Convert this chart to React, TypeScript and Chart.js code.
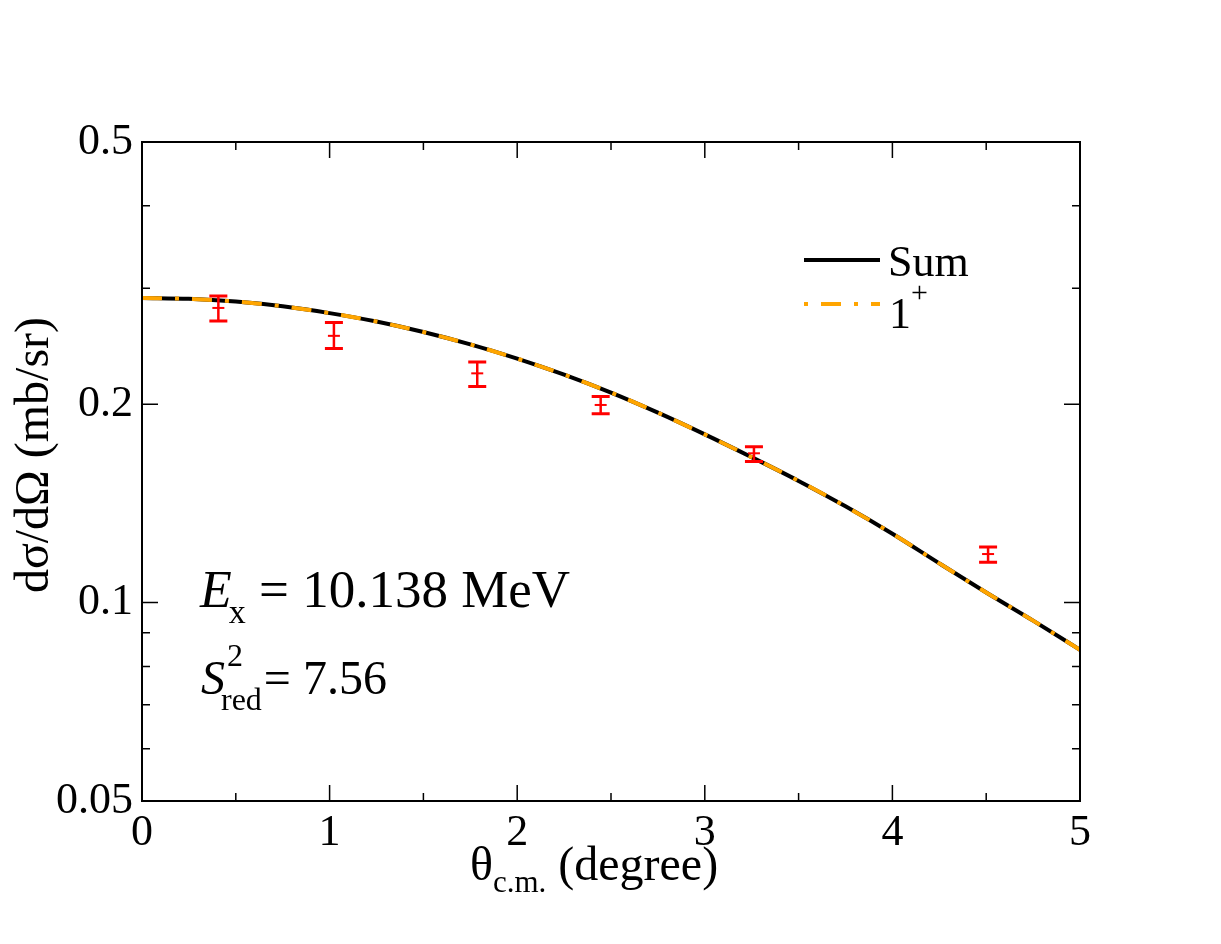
import React, { useEffect, useRef } from "react";
import { Chart, registerables } from "chart.js";

Chart.register(...registerables);

// ---- data ----
const curveTheta = [0, 0.25, 0.5, 0.75, 1, 1.25, 1.5, 1.75, 2, 2.25, 2.5, 2.75, 3, 3.25, 3.5, 3.75, 4, 4.25, 4.5, 4.75, 5];
const sumValues = [0.29, 0.2891, 0.2863, 0.2816, 0.275, 0.267, 0.2574, 0.2465, 0.2346, 0.2218, 0.2083, 0.1942, 0.18, 0.1662, 0.153, 0.14, 0.1272, 0.1147, 0.1036, 0.0939, 0.0848];
const onePlusValues = [0.29, 0.2891, 0.2863, 0.2816, 0.275, 0.267, 0.2574, 0.2465, 0.2346, 0.2218, 0.2083, 0.1942, 0.18, 0.1662, 0.153, 0.14, 0.1272, 0.1147, 0.1036, 0.0939, 0.0848];

const expTheta = [0.407, 1.023, 1.787, 2.445, 3.262, 4.51];
const expValue = [0.28, 0.254, 0.2228, 0.1995, 0.1685, 0.1185];
const expLow = [0.2675, 0.243, 0.2127, 0.1934, 0.1637, 0.1151];
const expHigh = [0.292, 0.266, 0.2319, 0.2054, 0.1724, 0.1215];

const xMajorTicks = [0, 1, 2, 3, 4, 5];
const xMinorTicks = [0.5, 1.5, 2.5, 3.5, 4.5];
const yMajorTicks = [0.05, 0.1, 0.2, 0.5];
const yMinorTicks = [0.06, 0.07, 0.08, 0.09, 0.3, 0.4];

const seriesNames = ["Sum", "1"];
const xTitle = ["θ", "c.m.", " (degree)"];
const yTitle = "dσ/dΩ (mb/sr)";
const exLabel = ["E", "x", " = 10.138 MeV"];
const sLabel = ["S", "2", "red", "= 7.56"];

const FONT = "'Liberation Serif', 'Times New Roman', Times, serif";
const ORANGE = "#FFA500";
const RED = "#FF0000";
const DASH = [20, 13, 4, 13];

const overlayPlugin = {
  id: "overlay",
  afterDatasetsDraw(chart: any) {
    const { ctx } = chart;
    const x = chart.scales.x;
    const y = chart.scales.y;
    ctx.save();
    ctx.strokeStyle = RED;
    for (let i = 0; i < expTheta.length; i++) {
      const px = x.getPixelForValue(expTheta[i]);
      const pl = y.getPixelForValue(expLow[i]);
      const ph = y.getPixelForValue(expHigh[i]);
      ctx.lineWidth = 2.5;
      ctx.beginPath();
      ctx.moveTo(px, pl);
      ctx.lineTo(px, ph);
      ctx.stroke();
      ctx.lineWidth = 3;
      ctx.beginPath();
      ctx.moveTo(px - 9, pl);
      ctx.lineTo(px + 9, pl);
      ctx.moveTo(px - 9, ph);
      ctx.lineTo(px + 9, ph);
      ctx.stroke();
    }
    ctx.restore();
  },
  afterDraw(chart: any) {
    const { ctx, chartArea } = chart;
    const x = chart.scales.x;
    const y = chart.scales.y;
    const { left, right, top, bottom } = chartArea;
    ctx.save();
    // frame
    ctx.strokeStyle = "#000";
    ctx.lineWidth = 2;
    ctx.strokeRect(left, top, right - left, bottom - top);
    // ticks (inward, all sides)
    ctx.lineWidth = 1.5;
    const MAJ = 16;
    const MIN = 8;
    ctx.beginPath();
    const xt = (vals: number[], len: number) => {
      vals.forEach((v) => {
        const p = x.getPixelForValue(v);
        ctx.moveTo(p, bottom);
        ctx.lineTo(p, bottom - len);
        ctx.moveTo(p, top);
        ctx.lineTo(p, top + len);
      });
    };
    const yt = (vals: number[], len: number) => {
      vals.forEach((v) => {
        const p = y.getPixelForValue(v);
        ctx.moveTo(left, p);
        ctx.lineTo(left + len, p);
        ctx.moveTo(right, p);
        ctx.lineTo(right - len, p);
      });
    };
    xt(xMajorTicks, MAJ);
    xt(xMinorTicks, MIN);
    yt(yMajorTicks, MAJ);
    yt(yMinorTicks, MIN);
    ctx.stroke();

    ctx.fillStyle = "#000";
    ctx.textBaseline = "alphabetic";
    ctx.textAlign = "left";

    // legend
    ctx.lineCap = "butt";
    ctx.lineWidth = 4;
    ctx.strokeStyle = "#000";
    ctx.beginPath();
    ctx.moveTo(804, 260);
    ctx.lineTo(880, 260);
    ctx.stroke();
    ctx.strokeStyle = ORANGE;
    ctx.setLineDash([4, 13, 20, 13]);
    ctx.beginPath();
    ctx.moveTo(804, 304);
    ctx.lineTo(880, 304);
    ctx.stroke();
    ctx.setLineDash([]);
    ctx.font = `44px ${FONT}`;
    ctx.fillText(seriesNames[0], 888, 276);
    ctx.fillText(seriesNames[1], 889, 328);
    ctx.font = `30px ${FONT}`;
    ctx.fillText("+", 911, 302);

    // annotation E_x
    ctx.font = `italic 52px ${FONT}`;
    ctx.fillText(exLabel[0], 200, 607);
    let w = ctx.measureText(exLabel[0]).width;
    ctx.font = `34px ${FONT}`;
    ctx.fillText(exLabel[1], 200 + w - 3, 623);
    w += ctx.measureText(exLabel[1]).width - 3;
    ctx.font = `53px ${FONT}`;
    ctx.fillText(exLabel[2], 200 + w, 607);

    // annotation S^2_red
    ctx.font = `italic 48px ${FONT}`;
    ctx.fillText(sLabel[0], 201, 694);
    const ws = ctx.measureText(sLabel[0]).width;
    ctx.font = `32px ${FONT}`;
    ctx.fillText(sLabel[1], 201 + ws + 2, 666);
    ctx.fillText(sLabel[2], 201 + ws - 4, 710);
    const wr = ctx.measureText(sLabel[2]).width;
    ctx.font = `48px ${FONT}`;
    ctx.fillText(sLabel[3], 201 + ws - 2 + wr, 694);

    // x title
    ctx.font = `48px ${FONT}`;
    const w0 = ctx.measureText(xTitle[0]).width;
    const w2 = ctx.measureText(xTitle[2]).width;
    ctx.font = `31px ${FONT}`;
    const w1 = ctx.measureText(xTitle[1]).width;
    const total = w0 + w1 + w2;
    const sx = 594 - total / 2;
    ctx.font = `48px ${FONT}`;
    ctx.fillText(xTitle[0], sx, 880);
    ctx.font = `31px ${FONT}`;
    ctx.fillText(xTitle[1], sx + w0, 892);
    ctx.font = `48px ${FONT}`;
    ctx.fillText(xTitle[2], sx + w0 + w1, 880);

    // y title
    ctx.save();
    ctx.translate(48, 455);
    ctx.rotate(-Math.PI / 2);
    ctx.textAlign = "center";
    ctx.font = `48px ${FONT}`;
    ctx.fillText(yTitle, 0, 0);
    ctx.restore();

    ctx.restore();
  },
};

export default function App() {
  const ref = useRef<HTMLCanvasElement | null>(null);
  useEffect(() => {
    if (!ref.current) return;
    const chart = new Chart(ref.current, {
      type: "line",
      data: {
        datasets: [
          {
            type: "scatter",
            label: "data",
            data: expTheta.map((t, i) => ({ x: t, y: expValue[i] })),
            pointStyle: "line",
            radius: 6,
            borderColor: RED,
            backgroundColor: RED,
            borderWidth: 2,
            order: 0,
          } as any,
          {
            label: "1+",
            data: curveTheta.map((t, i) => ({ x: t, y: onePlusValues[i] })),
            borderColor: ORANGE,
            borderWidth: 4,
            borderDash: DASH,
            pointRadius: 0,
            cubicInterpolationMode: "monotone",
            fill: false,
            order: 1,
          },
          {
            label: "Sum",
            data: curveTheta.map((t, i) => ({ x: t, y: sumValues[i] })),
            borderColor: "#000",
            borderWidth: 4,
            pointRadius: 0,
            cubicInterpolationMode: "monotone",
            fill: false,
            order: 2,
          },
        ],
      },
      options: {
        animation: false,
        responsive: false,
        maintainAspectRatio: false,
        layout: { padding: { left: 0, top: 142, right: 141, bottom: 0 } },
        plugins: { legend: { display: false }, tooltip: { enabled: false } },
        scales: {
          x: {
            type: "linear",
            min: 0,
            max: 5,
            grid: { display: false, drawTicks: false },
            border: { display: false },
            afterBuildTicks: (s: any) => {
              s.ticks = xMajorTicks.map((v) => ({ value: v }));
            },
            afterFit: (s: any) => {
              s.height = 143;
            },
            ticks: {
              autoSkip: false,
              maxRotation: 0,
              padding: 6,
              color: "#000",
              font: { family: FONT, size: 44 },
              callback: (v: any) => String(v),
            },
          },
          y: {
            type: "logarithmic",
            min: 0.05,
            max: 0.5,
            grid: { display: false, drawTicks: false },
            border: { display: false },
            afterBuildTicks: (s: any) => {
              s.ticks = yMajorTicks.map((v) => ({ value: v }));
            },
            afterFit: (s: any) => {
              s.width = 142;
            },
            ticks: {
              autoSkip: false,
              padding: 9,
              color: "#000",
              font: { family: FONT, size: 44 },
              callback: (v: any) => String(v),
            },
          },
        },
      },
      plugins: [overlayPlugin],
    });
    return () => chart.destroy();
  }, []);
  return (
    <div style={{ position: "absolute", left: 0, top: 0, width: 1221, height: 944, background: "#fff" }}>
      <canvas ref={ref} width={1221} height={944} />
    </div>
  );
}
